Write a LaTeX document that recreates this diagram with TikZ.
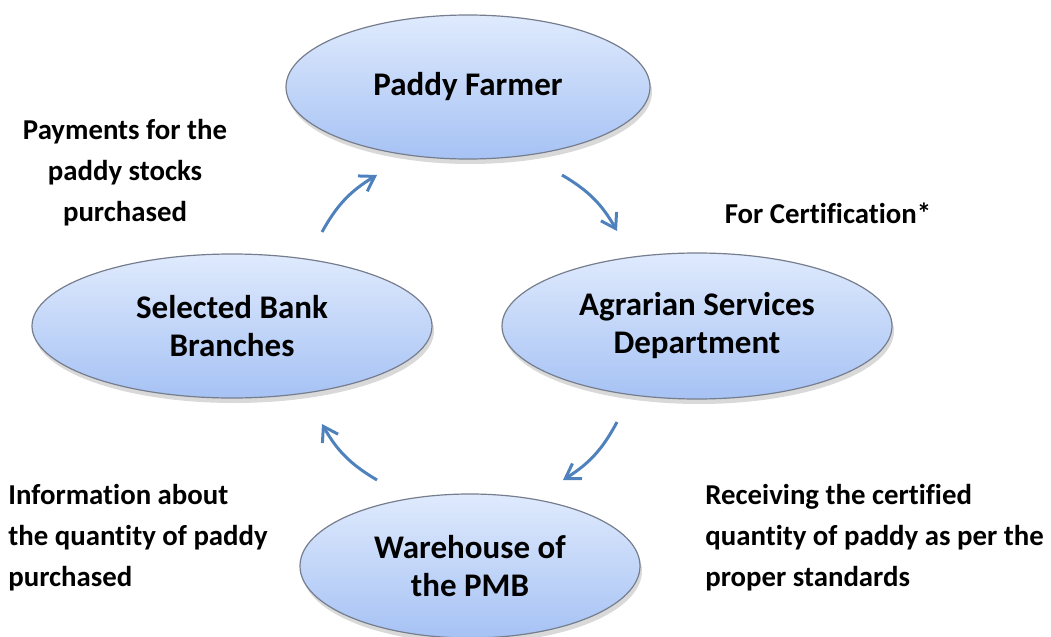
\documentclass[tikz,border=0pt]{standalone}
\usepackage{fontspec}
\setmainfont[Ligatures=NoCommon]{Carlito}
\usetikzlibrary{arrows.meta,shapes.geometric,shadows}

\definecolor{ovaltop}{RGB}{223,234,253}
\definecolor{ovalbottom}{RGB}{166,194,244}
\definecolor{ovalrim}{RGB}{118,126,142}
\definecolor{flowblue}{RGB}{79,129,189}

\begin{document}
\begin{tikzpicture}[x=0.5pt,y=-0.5pt,
                    flow/.style={-{Straight Barb[length=7pt,width=9pt]},draw=flowblue,
                                 line width=1.5pt,bend left=15}]
  \tikzstyle{oval}=[ellipse,draw=ovalrim,line width=0.6pt,top color=ovaltop,
                    bottom color=ovalbottom,inner sep=0pt,align=center,
                    font=\fontsize{16.5}{19}\selectfont\bfseries,
                    drop shadow={shadow xshift=1pt,shadow yshift=-2.5pt,opacity=0.3}]
  \tikzstyle{note}=[inner sep=0pt,font=\fontsize{14.4}{20.5}\selectfont\bfseries]

  \useasboundingbox (0,0) rectangle (1051,637);

  \node[oval,minimum width=182pt,minimum height=72pt] (farmer) at (468,87)  {Paddy Farmer};
  \node[oval,minimum width=200pt,minimum height=72pt] (bank)   at (232,326) {Selected Bank\\Branches};
  \node[oval,minimum width=195pt,minimum height=73pt] (asd)    at (697,326) {Agrarian Services\\Department};
  \node[oval,minimum width=170pt,minimum height=72pt] (pmb)    at (470,566) {Warehouse of\\the PMB};

  \node[note,align=center]      (pay)  at (125,173) {Payments for the\\paddy stocks\\purchased};
  \node[note]                   (cert) at (828,213) {For Certification*};
  \node[note,align=left,anchor=west] (info) at (8,538)   {Information about\\the quantity of paddy\\purchased};
  \node[note,align=left,anchor=west] (recv) at (705,538) {Receiving the certified\\quantity of paddy as per the\\proper standards};

  % loose ends of the four arrows
  \coordinate (bf1) at (322,232); \coordinate (bf2) at (377,175);
  \coordinate (fa1) at (562,175); \coordinate (fa2) at (617,231);
  \coordinate (ap1) at (617,422); \coordinate (ap2) at (563,480);
  \coordinate (pb1) at (377,480); \coordinate (pb2) at (322,424);

  \draw[flow] (bf1) to (bf2);
  \draw[flow] (fa1) to (fa2);
  \draw[flow] (ap1) to (ap2);
  \draw[flow] (pb1) to (pb2);
\end{tikzpicture}
\end{document}
